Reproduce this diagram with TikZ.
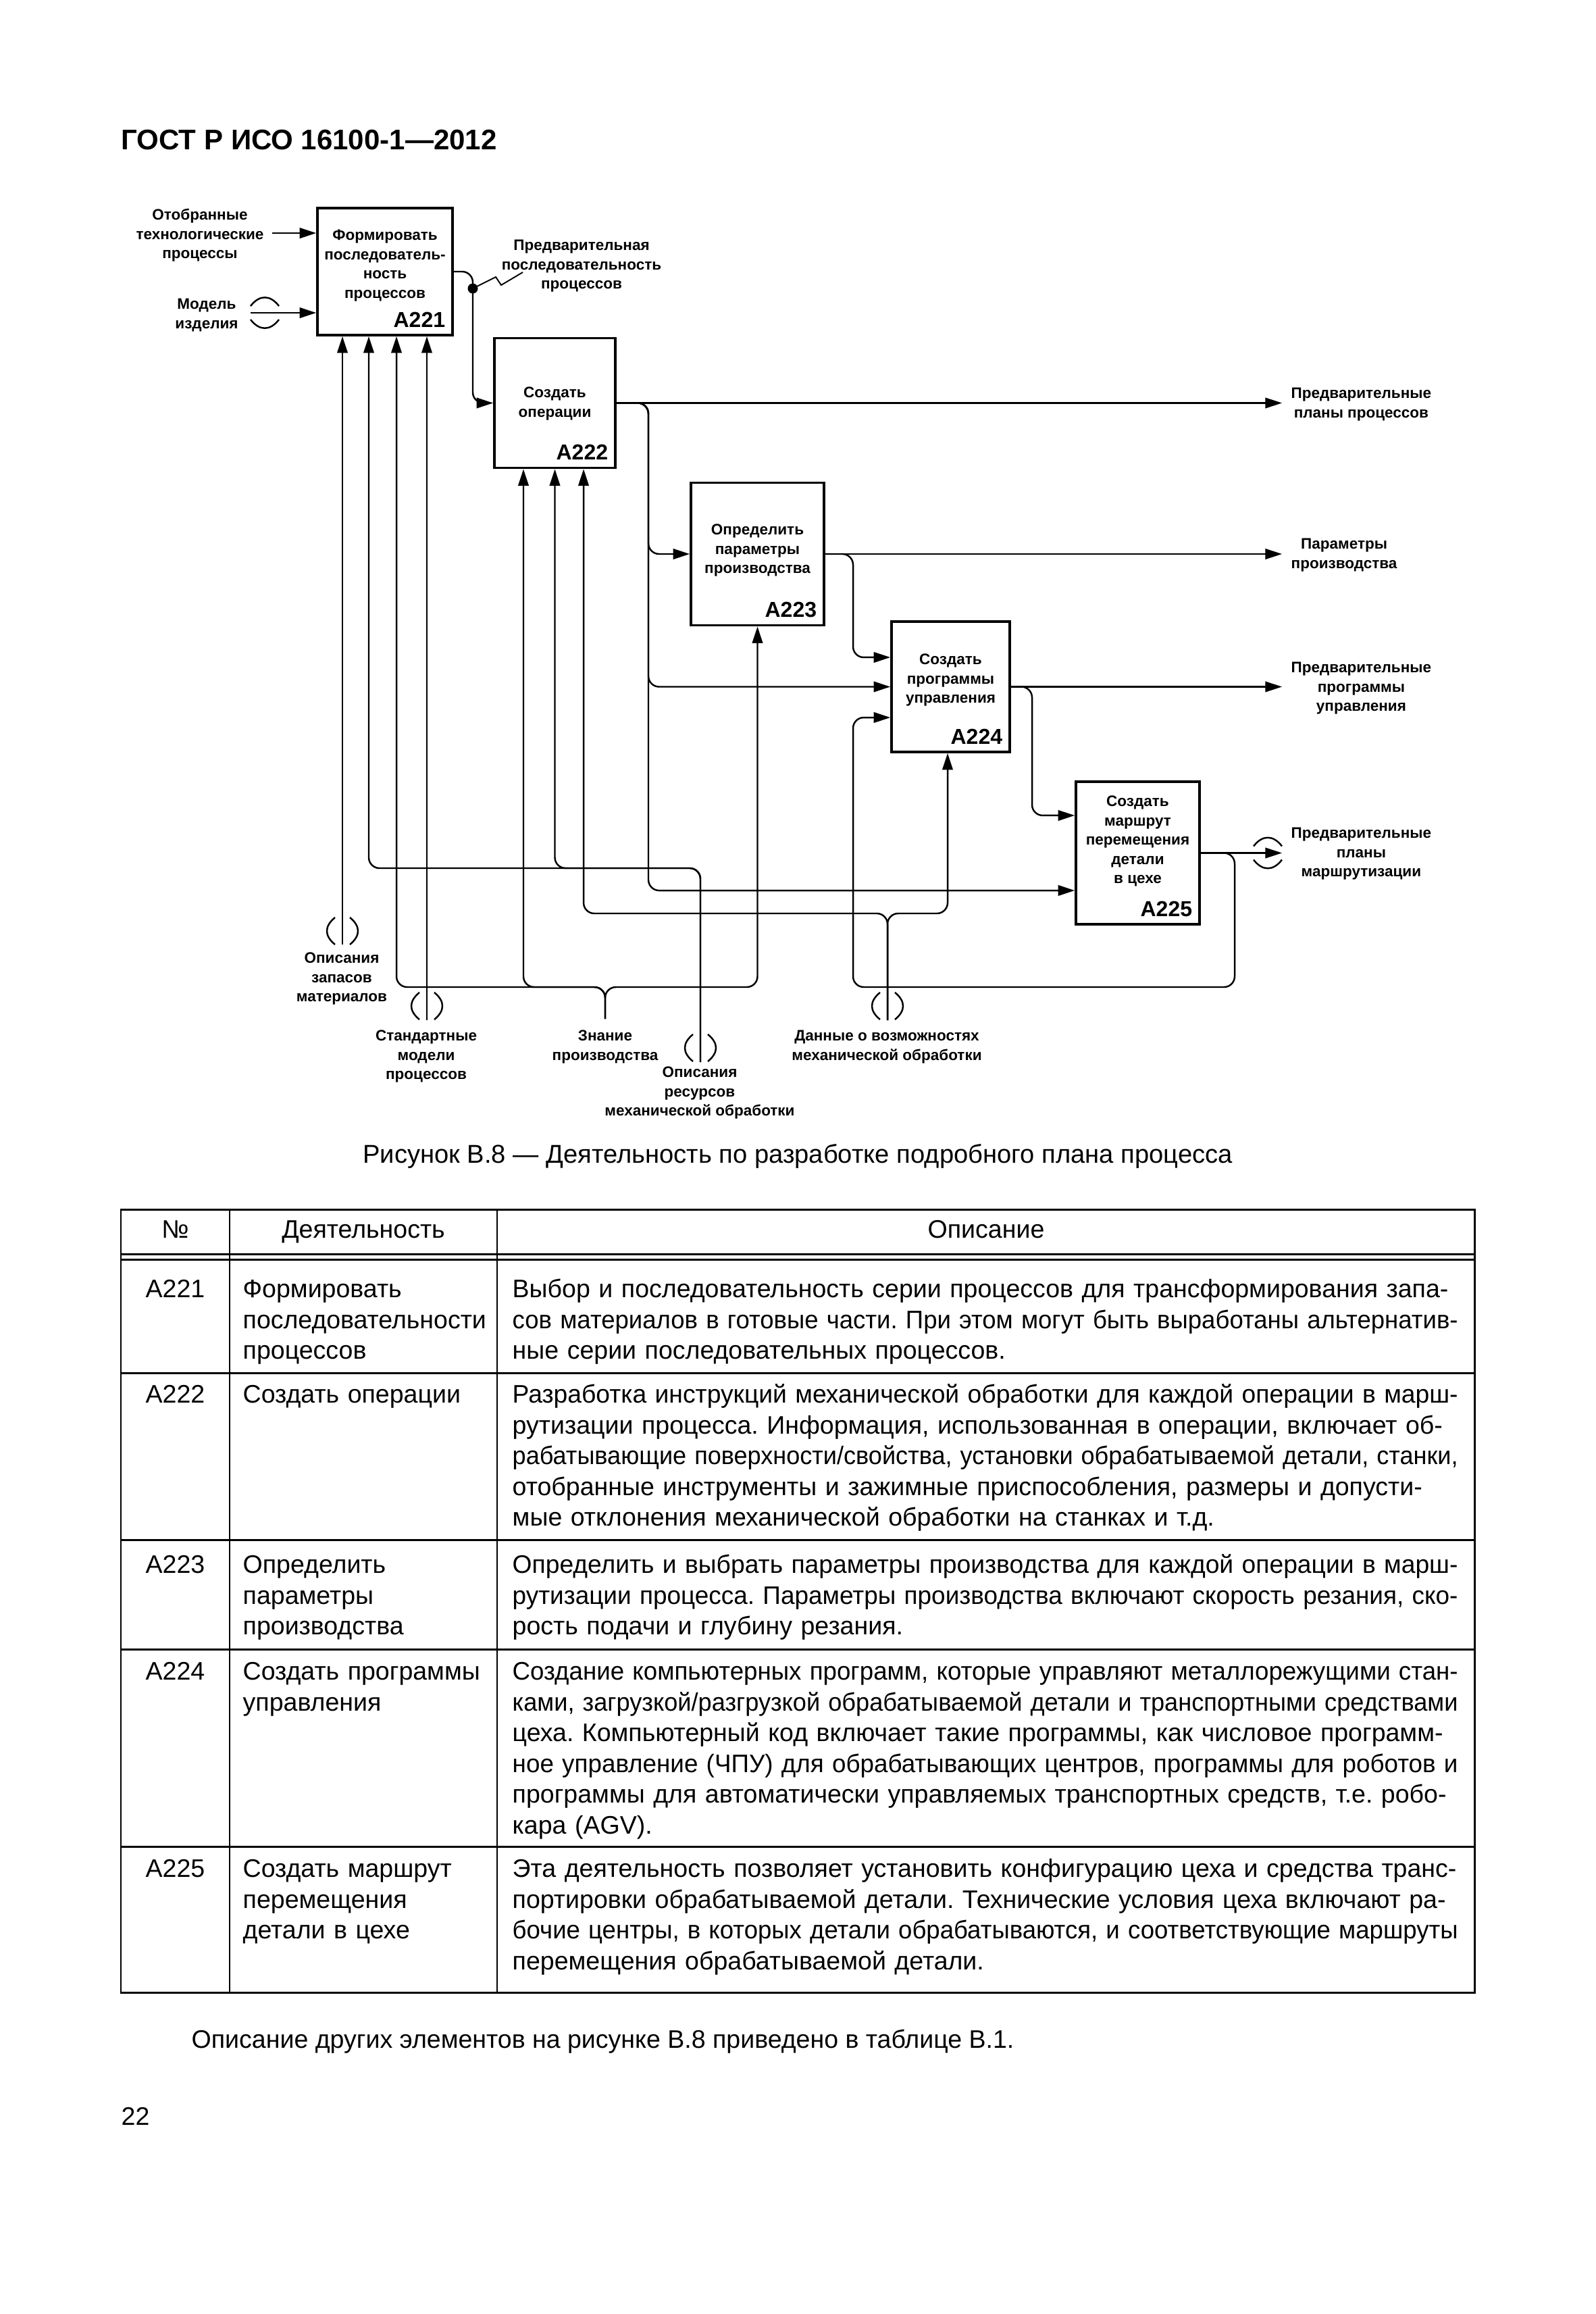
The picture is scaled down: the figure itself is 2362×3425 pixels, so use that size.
\documentclass[tikz,border=0pt]{standalone}
\usepackage{fontspec}
\setmainfont{Liberation Sans}
\usepackage{graphicx}
\usetikzlibrary{arrows.meta}
\setlength\parindent{0pt}
\frenchspacing
\newcommand\dgfont{\fontsize{6.4pt}{8.1pt}\selectfont\bfseries}
\newcommand\idfont{\fontsize{9.1pt}{10pt}\selectfont\bfseries}
\newcommand\hdrfont{\fontsize{11.95pt}{14pt}\selectfont\bfseries}
\newcommand\tabfont{\fontsize{10.67pt}{12.95pt}\selectfont}
\newcommand\capfont{\fontsize{10.85pt}{13pt}\selectfont}
\newsavebox\jlbox
\newcommand\jl[1]{\sbox\jlbox{#1}%
  \ifdim\wd\jlbox>\hsize\resizebox{\hsize}{\height}{\usebox\jlbox}%
  \else\makebox[\hsize][s]{#1}\fi}
\begin{document}
\begin{tikzpicture}[x=0.01cm,y=-0.01cm]

\tikzset{actbox/.style={draw,line width=1pt,inner sep=0pt},
  flow/.style={line width=0.7pt,rounded corners=4.5pt,-{Triangle[length=7pt,width=4.4pt]}},
  squig/.style={line width=0.55pt},
  tunl/.style={line width=0.7pt},
  lbl/.style={font=\dgfont,align=center,inner sep=0pt,anchor=north},
  idlbl/.style={font=\idfont,inner sep=0pt,anchor=base east,xshift=-0.12cm,yshift=0.135cm},
  vtunnel/.pic={\draw[tunl] (-11,-20) .. controls (-27,-7) and (-27,7) .. (-11,20)
                           (11,-20) .. controls (27,-7) and (27,7) .. (11,20);},
  htunnel/.pic={\draw[tunl] (-21,-10) .. controls (-8,-27) and (8,-27) .. (21,-10)
                           (-21,10) .. controls (-8,27) and (8,27) .. (21,10);},
  tabtext/.style={font=\tabfont,inner sep=0pt,align=left,anchor=north west},
  tabword/.style={font=\tabfont,inner sep=0pt,anchor=base},
  rule/.style={line width=0.85pt},
  thinrule/.style={line width=0.55pt}}

\fill[white] (0,0) rectangle (2362,3425);
\useasboundingbox (0,0) rectangle (2362,3425);

\node[font=\hdrfont,anchor=base west,inner sep=0pt] (hdr) at (179,222) {ГОСТ Р ИСО 16100-1—2012};

% activity boxes
\node[actbox,minimum width=2cm,minimum height=1.88cm]    (a221) at (570,402)       {};
\node[actbox,minimum width=1.79cm,minimum height=1.92cm] (a222) at (821.5,596.5)   {};
\node[actbox,minimum width=1.97cm,minimum height=2.11cm] (a223) at (1121.5,820)    {};
\node[actbox,minimum width=1.75cm,minimum height=1.93cm] (a224) at (1407.5,1016.5) {};
\node[actbox,minimum width=1.83cm,minimum height=2.11cm] (a225) at (1684.5,1262.5) {};

\node[lbl] (bt221) at ([yshift=-0.29cm]a221.north)  {\strut Формировать\\последователь-\\ность\\процессов};
\node[lbl] (bt222) at ([yshift=-0.695cm]a222.north) {\strut Создать\\операции};
\node[lbl] (bt223) at ([yshift=-0.585cm]a223.north) {\strut Определить\\параметры\\производства};
\node[lbl] (bt224) at ([yshift=-0.45cm]a224.north)  {\strut Создать\\программы\\управления};
\node[lbl] (bt225) at ([yshift=-0.18cm]a225.north)  {\strut Создать\\маршрут\\перемещения\\детали\\в цехе};

\node[idlbl] (id221) at (a221.south east) {A221};
\node[idlbl] (id222) at (a222.south east) {A222};
\node[idlbl] (id223) at (a223.south east) {A223};
\node[idlbl] (id224) at (a224.south east) {A224};
\node[idlbl] (id225) at (a225.south east) {A225};

% arrow labels
\node[lbl] (lsel) at (296,305) {\strut Отобранные\\технологические\\процессы};
\node[lbl] (lmod) at (306,437) {\strut Модель\\изделия};
\node[lbl] (lseq) at (861,350) {\strut Предварительная\\последовательность\\процессов};
\node[lbl,anchor=north west] (lplan)  at (1911,569)  {\strut Предварительные\\планы процессов};
\node[lbl,anchor=north west] (lpar)   at (1911,792)  {\strut Параметры\\производства};
\node[lbl,anchor=north west] (lprog)  at (1911,975)  {\strut Предварительные\\программы\\управления};
\node[lbl,anchor=north west] (lroute) at (1911,1220) {\strut Предварительные\\планы\\маршрутизации};
\node[lbl] (lstock) at (506,1405)  {\strut Описания\\запасов\\материалов};
\node[lbl] (lstd)   at (631,1520)  {\strut Стандартные\\модели\\процессов};
\node[lbl] (lknow)  at (896,1520)  {\strut Знание\\производства};
\node[lbl] (lres)   at (1036,1574) {\strut Описания\\ресурсов\\механической обработки};
\node[lbl] (ldata)  at (1313,1520) {\strut Данные о возможностях\\механической обработки};

\coordinate (selin)  at (403,345);
\coordinate (modin)  at (371,463);
\coordinate (seqdot) at (700,427);
\coordinate (outx)   at (1898,0);
\coordinate (br2)    at (960,0);
\coordinate (br3)    at (1263,0);
\coordinate (br4)    at (1528,0);
\coordinate (fbk)    at (1828,1461);
\coordinate (stock)  at (507,1398);
\coordinate (std)    at (632,1510);
\coordinate (know)   at (896,1508);
\coordinate (knowj)  at (896,1461);
\coordinate (res)    at (1037,1572);
\coordinate (resj)   at (1037,1285);
\coordinate (data)   at (1314,1510);
\coordinate (dataj)  at (1314,1352);
\coordinate (a224in1) at ([yshift=0.435cm]a224.west);
\coordinate (a224in3) at ([yshift=-0.455cm]a224.west);
\coordinate (a225in1) at ([yshift=0.555cm]a225.west);
\coordinate (a225in2) at ([yshift=-0.555cm]a225.west);

% inputs
\draw[flow] (selin) -- (selin -| a221.west);
\draw[flow] (modin) -- (modin -| a221.west);
\pic at (392,463) {htunnel};

% outputs and links
\draw[flow] (a221.east) -| (seqdot |- a222.west) -- (a222.west);
\fill (seqdot) circle (0.075cm);
\draw[squig] (seqdot) -- ++(34,-17) -- ++(8,12) -- ++(32,-19);
\draw[flow] (a222.east) -- (a222.east -| outx);
\draw[flow] (a223.east) -- (a223.east -| outx);
\draw[flow] (a224.east) -- (a224.east -| outx);
\draw[flow] (a225.east) -- (a225.east -| outx);
\pic at (1877,1262.5) {htunnel};
\draw[flow] (a222.east) -| (br2 |- a223.west) -- (a223.west);
\draw[flow] (a222.east) -| (br2 |- a224.west) -- (a224.west);
\draw[flow] (a222.east) -| (br2 |- a225in2) -- (a225in2);
\draw[flow] (a223.east) -| (br3 |- a224in1) -- (a224in1);
\draw[flow] (a224.east) -| (br4 |- a225in1) -- (a225in1);
\draw[flow] (a225.east) -| (fbk) -| (br3 |- a224in3) -- (a224in3);

% controls
\draw[flow] (stock) -- (stock |- a221.south);
\pic at ([yshift=0.2cm]stock) {vtunnel};
\draw[flow] (std) -- (std |- a221.south);
\pic at ([yshift=0.21cm]std) {vtunnel};
\draw[flow] (know) -- (knowj) -| ([xshift=0.17cm]a221.south);
\draw[flow] (know) -- (knowj) -| ([xshift=-0.465cm]a222.south);
\draw[flow] (know) -- (knowj) -| (a223.south);
\draw[flow] (res) -- (resj) -| ([xshift=-0.24cm]a221.south);
\draw[flow] (res) -- (resj) -| (a222.south);
\pic at ([yshift=0.21cm]res) {vtunnel};
\draw[flow] (data) -- (dataj) -| ([xshift=0.425cm]a222.south);
\draw[flow] (data) -- (dataj) -| ([xshift=-0.045cm]a224.south);
\pic at ([yshift=0.21cm]data) {vtunnel};

\node[tabword,font=\capfont] (cap) at (1181,1721) {Рисунок В.8 — Деятельность по разработке подробного плана процесса};

% table
\draw[rule] (179,1790) rectangle (2183,2949);
\draw[thinrule] (340,1790) -- (340,2949) (736,1790) -- (736,2949);
\draw[rule] (179,1856) -- (2183,1856) (179,1864) -- (2183,1864);
\foreach \y in {2032,2279,2441,2733}
  \draw[rule] (179,\y) -- (2183,\y);

\node[tabword] (hno)   at (259.5,1832) {№};
\node[tabword] (hact)  at (538,1832)   {Деятельность};
\node[tabword] (hdesc) at (1460,1832)  {Описание};

\node[tabword] (tn221) at (259.5,1920) {A221};
\node[tabtext,text width=3.6cm] (ta221) at (359,1888.1) {\strut Формировать\\\jl{последовательности}\\процессов};
\node[tabtext,text width=13.99cm] (td221) at (758,1888.1) {\strut\jl{Выбор и последовательность серии процессов для трансформирования запа-}\\
\jl{сов материалов в готовые части. При этом могут быть выработаны альтернатив-}\\
ные серии последовательных процессов.};

\node[tabword] (tn222) at (259.5,2076) {A222};
\node[tabtext,text width=3.6cm] (ta222) at (359,2044.1) {\strut Создать операции};
\node[tabtext,text width=13.99cm] (td222) at (758,2044.1) {\strut\jl{Разработка инструкций механической обработки для каждой операции в марш-}\\
\jl{рутизации процесса. Информация, использованная в операции, включает об-}\\
\jl{рабатывающие поверхности/свойства, установки обрабатываемой детали, станки,}\\
\jl{отобранные инструменты и зажимные приспособления, размеры и допусти-}\\
мые отклонения механической обработки на станках и т.д.};

\node[tabword] (tn223) at (259.5,2328) {A223};
\node[tabtext,text width=3.6cm] (ta223) at (359,2296.1) {\strut Определить\\параметры\\производства};
\node[tabtext,text width=13.99cm] (td223) at (758,2296.1) {\strut\jl{Определить и выбрать параметры производства для каждой операции в марш-}\\
\jl{рутизации процесса. Параметры производства включают скорость резания, ско-}\\
рость подачи и глубину резания.};

\node[tabword] (tn224) at (259.5,2486) {A224};
\node[tabtext,text width=3.6cm] (ta224) at (359,2454.1) {\strut Создать программы\\управления};
\node[tabtext,text width=13.99cm] (td224) at (758,2454.1) {\strut\jl{Создание компьютерных программ, которые управляют металлорежущими стан-}\\
\jl{ками, загрузкой/разгрузкой обрабатываемой детали и транспортными средствами}\\
\jl{цеха. Компьютерный код включает такие программы, как числовое программ-}\\
\jl{ное управление (ЧПУ) для обрабатывающих центров, программы для роботов и}\\
\jl{программы для автоматически управляемых транспортных средств, т.е. робо-}\\
кара (AGV).};

\node[tabword] (tn225) at (259.5,2778) {A225};
\node[tabtext,text width=3.6cm] (ta225) at (359,2746.1) {\strut Создать маршрут\\перемещения\\детали в цехе};
\node[tabtext,text width=13.99cm] (td225) at (758,2746.1) {\strut\jl{Эта деятельность позволяет установить конфигурацию цеха и средства транс-}\\
\jl{портировки обрабатываемой детали. Технические условия цеха включают ра-}\\
\jl{бочие центры, в которых детали обрабатываются, и соответствующие маршруты}\\
перемещения обрабатываемой детали.};

\node[tabword,anchor=base west] (note) at (283,3031) {Описание других элементов на рисунке В.8 приведено в таблице В.1.};
\node[tabword,anchor=base west] (pg) at (179,3145) {22};

\end{tikzpicture}
\end{document}
